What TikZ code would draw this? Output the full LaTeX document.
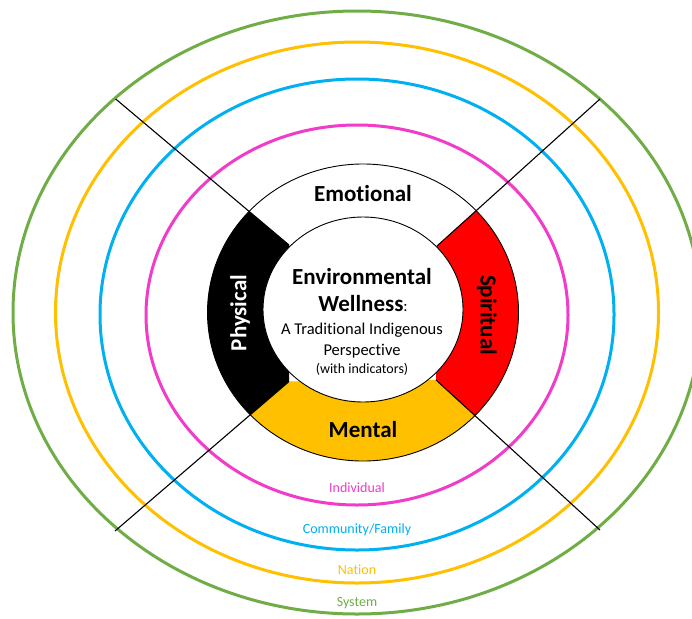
\documentclass[tikz,border=0pt]{standalone}
\usepackage{fontspec}
\setmainfont{Carlito}[Ligatures={NoCommon}, RawFeature={-liga;-clig;-dlig}]
\definecolor{ringgreen}{RGB}{112,173,71}
\definecolor{ringyellow}{RGB}{255,192,0}
\definecolor{ringblue}{RGB}{0,176,240}
\definecolor{ringpink}{RGB}{240,60,200}
\definecolor{sectred}{RGB}{255,0,0}
\tikzset{
  ringline/.style={line width=3pt},
  divline/.style={line width=1.1pt, black},
  bigword/.style={font=\fontsize{23}{26}\selectfont\bfseries, inner sep=0pt},
  levellabel/.style={font=\fontsize{14}{16}\selectfont, inner sep=0pt},
}
\begin{document}
\begin{tikzpicture}[x=1pt,y=-1pt]
\useasboundingbox (0,0) rectangle (692,618);
\clip (0,0) rectangle (692,618);
\fill[white] (0,0) rectangle (692,618);

% concentric level rings
\draw[ringline, ringgreen]  (357,312.5) ellipse [x radius=344pt, y radius=301.5pt];
\draw[ringline, ringyellow] (357,312.5) ellipse [x radius=301.5pt, y radius=270.5pt];
\draw[ringline, ringblue]   (357,314.5) ellipse [x radius=257pt, y radius=235.5pt];
\draw[ringline, ringpink]   (357,315)   ellipse [x radius=211pt, y radius=190pt];

% division points
\coordinate (TLo) at (115.7,99);
\coordinate (TLi) at (289,245);
\coordinate (TRo) at (600,99);
\coordinate (TRi) at (437,246);
\coordinate (BLo) at (115,531);
\coordinate (BLi) at (289,381.5);
\coordinate (BRo) at (600,530);
\coordinate (BRi) at (436,380);
\coordinate (ringc) at (363,312.5);
\coordinate (innerc) at (363,309.5);

% coloured sectors of the wheel
\begin{scope}
  \clip (TLo) -- (TLi) -- (BLi) -- (BLo) -- cycle;
  \fill[black] (ringc) ellipse [x radius=155.5pt, y radius=148.5pt];
\end{scope}
\begin{scope}
  \clip (TRo) -- (BRo) -- (BRi) -- (TRi) -- cycle;
  \fill[sectred] (ringc) ellipse [x radius=155.5pt, y radius=148.5pt];
\end{scope}
\begin{scope}
  \clip (BLo) -- (BRo) -- (BRi) -- (BLi) -- cycle;
  \fill[ringyellow] (ringc) ellipse [x radius=155.5pt, y radius=148.5pt];
\end{scope}
\draw[black, line width=0.9pt] (ringc) ellipse [x radius=155.5pt, y radius=148.5pt];

% dividing lines
\draw[divline] (TLo) -- (TLi);
\draw[divline] (TRo) -- (TRi);
\draw[divline] (BLo) -- (BLi);
\draw[divline] (BRo) -- (BRi);

% inner circle
\filldraw[fill=white, draw=black, line width=0.9pt] (innerc) ellipse [x radius=100pt, y radius=92.5pt];

% wheel labels
\node[bigword] (emo) at (363,194) {Emotional};
\node[bigword] (men) at (363,430) {Mental};
\node[bigword, white, rotate=90] (phy) at (240,313) {Physical};
\node[bigword, rotate=-90] (spi) at (487,315) {Spiritual};

% centre text
\node[bigword] (env) at (362,277) {Environmental};
\node[inner sep=0pt] (wel) at (363,304) {\fontsize{23}{26}\selectfont\bfseries Wellness\mdseries\fontsize{16}{18}\selectfont:};
\node[inner sep=0pt, font=\fontsize{16.5}{19}\selectfont] (tra) at (362,330) {A Traditional Indigenous};
\node[inner sep=0pt, font=\fontsize{16.5}{19}\selectfont] (per) at (362,351) {Perspective};
\node[inner sep=0pt, font=\fontsize{14}{16}\selectfont] (ind) at (362,369) {(with indicators)};

% level labels
\node[levellabel, ringpink]   (lvI) at (357,488) {Individual};
\node[levellabel, ringblue]   (lvC) at (357,530) {Community/Family};
\node[levellabel, ringyellow] (lvN) at (357,570) {Nation};
\node[levellabel, ringgreen]  (lvS) at (357,603) {System};
\end{tikzpicture}
\end{document}
